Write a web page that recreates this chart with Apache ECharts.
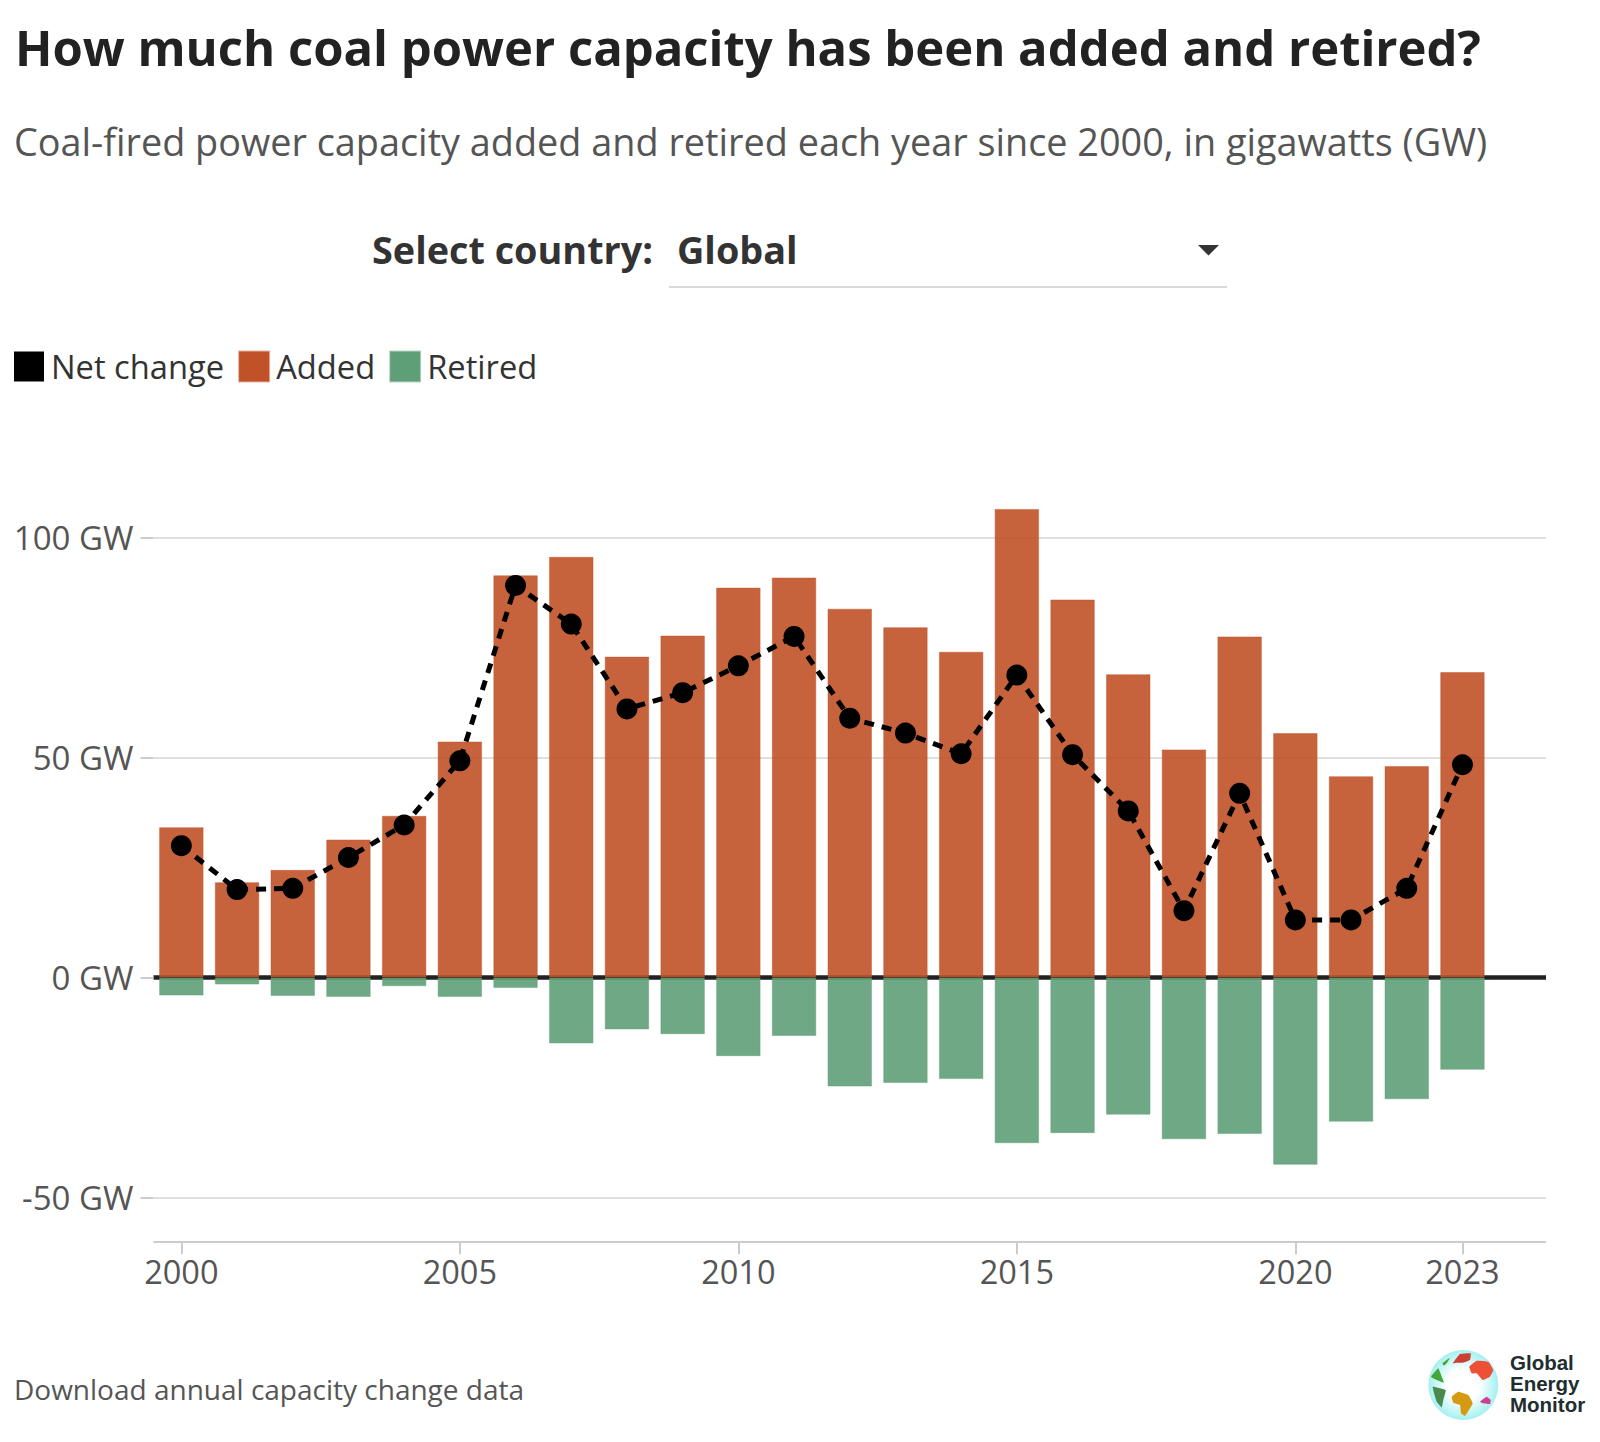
<!DOCTYPE html>
<html><head><meta charset="utf-8">
<style>html,body{margin:0;padding:0;background:#fff}#c{width:1600px;height:1442px}</style>
<script src="https://cdn.jsdelivr.net/npm/echarts@6/dist/echarts.min.js"></script>
</head><body><div id="c"></div>
<script>
const years=['2000','2001','2002','2003','2004','2005','2006','2007','2008','2009','2010','2011','2012','2013','2014','2015','2016','2017','2018','2019','2020','2021','2022','2023','2024'];
const added=[34.2,21.7,24.5,31.4,36.8,53.7,91.5,95.7,73,77.8,88.7,91,83.9,79.7,74.1,106.6,86,69,51.9,77.6,55.6,45.8,48.1,69.5,null];
const retired=[-4.1,-1.6,-4.2,-4.4,-2,-4.4,-2.4,-15,-11.8,-12.9,-17.9,-13.3,-24.8,-24,-23.1,-37.7,-35.4,-31.2,-36.8,-35.6,-42.6,-32.8,-27.7,-21,null];
const net=[30,20,20.3,27.3,34.7,49.3,89.2,80.4,61.1,64.8,70.9,77.6,59,55.6,50.9,68.8,50.7,37.9,15.2,41.9,13.1,13.1,20.3,48.4,null];
const xLabels=['2000','2005','2010','2015','2020','2023'];
const yTicks=[-50,0,50,100];
const F='"Open Sans"';
const chart=echarts.init(document.getElementById('c'),null,{renderer:'svg'});
const txt=(x,y,text,font,fill,extra)=>({type:'text',left:x,top:y,style:Object.assign({text,font,fill},extra||{})});
const poly=(points,fill)=>({type:'polygon',shape:{points,smooth:0.1},style:{fill}});
chart.setOption({
  animation:false,
  textStyle:{fontFamily:F},
  grid:{left:153.5,right:54,top:450,bottom:200.7,containLabel:false},
  legend:{left:14,top:350,padding:0,itemWidth:30,itemHeight:30,itemGap:14,icon:'rect',selectedMode:false,
    textStyle:{fontFamily:F,fontSize:32.7,color:'#333',padding:[0,0,0,2]},
    data:[{name:'Net change',icon:'rect',itemStyle:{color:'#000',opacity:1}},
          {name:'Added',icon:'rect',itemStyle:{color:'#c05228',opacity:1}},
          {name:'Retired',icon:'rect',itemStyle:{color:'#5f9f78',opacity:1}}]},
  xAxis:[{type:'category',data:years,position:'bottom',
    axisLine:{onZero:false,lineStyle:{color:'#ccc',width:2,cap:'butt'}},
    axisTick:{show:true,alignWithLabel:true,length:13,lineStyle:{color:'#ccc',width:2},interval:(i,v)=>xLabels.includes(v)},
    axisLabel:{fontFamily:F,fontSize:32.5,color:'#555',margin:14,interval:(i,v)=>xLabels.includes(v),hideOverlap:false},
    splitLine:{show:false}},
   {type:'category',data:years,position:'bottom',
    axisLine:{onZero:true,lineStyle:{color:'#222',width:4.5,cap:'butt'}},
    axisTick:{show:false},axisLabel:{show:false},splitLine:{show:false}}],
  yAxis:{type:'value',min:-60,max:120,
    axisLine:{show:false},
    axisTick:{show:true,length:13,customValues:yTicks,lineStyle:{color:'#ccc',width:2}},
    axisLabel:{fontFamily:F,fontSize:33,color:'#555',margin:20,customValues:yTicks,formatter:v=>v+' GW'},
    splitLine:{show:true,lineStyle:{color:'#d4d4d4',width:1.5}}},
  series:[
   {name:'Added',type:'bar',stack:'c',barWidth:44.5,data:added,z:2,
    itemStyle:{color:'rgba(192,82,40,0.9)',borderColor:'rgba(192,82,40,0.45)',borderWidth:1}},
   {name:'Retired',type:'bar',stack:'c',barWidth:44.5,data:retired,z:2,
    itemStyle:{color:'rgba(95,159,120,0.9)',borderColor:'rgba(95,159,120,0.45)',borderWidth:1}},
   {name:'Net change',type:'line',data:net,z:5,symbol:'circle',symbolSize:21,
    itemStyle:{color:'#000'},lineStyle:{color:'#000',width:5,type:[10,8]},connectNulls:false}
  ],
  graphic:[
   txt(15,22,'How much coal power capacity has been added and retired?','bold 49px "Open Sans"','#222'),
   txt(14,122,'Coal-fired power capacity added and retired each year since 2000, in gigawatts (GW)','37.8px "Open Sans"','#555'),
   txt(372,230,'Select country:','bold 37.8px "Open Sans"','#333'),
   txt(677,230,'Global','bold 37.8px "Open Sans"','#333'),
   {type:'line',shape:{x1:669,y1:287,x2:1227,y2:287},style:{stroke:'#ccc',lineWidth:1.5}},
   {type:'polygon',shape:{points:[[1198,245],[1219,245],[1208.5,255.5]]},style:{fill:'#333'}},
   txt(14,1375,'Download annual capacity change data','28px "Open Sans"','#555'),
   {type:'circle',shape:{cx:1463.3,cy:1385,r:35},style:{fill:{type:'radial',x:0.5,y:0.5,r:0.5,colorStops:[{offset:0,color:'#fff'},{offset:0.45,color:'#fff'},{offset:1,color:'#a5f0f0'}]}}},
   poly([[1452.7,1363.3],[1460,1354],[1470.7,1353.3],[1470,1360],[1463,1362.7],[1456.7,1362.7]],'#cc3f33'),
   poly([[1442.3,1363.3],[1450,1357.7],[1446.7,1363.3],[1444,1365.7]],'#45a63c'),
   poly([[1431,1376.7],[1438.3,1368.3],[1441.7,1376.7],[1444,1382.7],[1436.7,1380]],'#45a63c'),
   poly([[1432.7,1386.7],[1445.7,1390],[1443.3,1400],[1441.7,1407.3],[1436.7,1401.7]],'#4a8a4e'),
   poly([[1469.3,1366.7],[1476.7,1360.7],[1488.3,1361.7],[1493.3,1370],[1490,1376.7],[1482.7,1380],[1476.7,1373.3],[1471.7,1373.3]],'#ee5035'),
   poly([[1451.7,1396.7],[1458.3,1391.7],[1468.3,1395],[1472.7,1403.3],[1465,1416],[1461,1413.3],[1460,1405],[1453.3,1402.7]],'#d49b12'),
   poly([[1480,1401.7],[1486.7,1396.7],[1490.7,1400],[1490,1404],[1482.7,1403.3]],'#cf3f8f'),
   txt(1510,1352,'Global','bold 20.5px "Liberation Sans"','#1e2d2f'),
   txt(1510,1373,'Energy','bold 20.5px "Liberation Sans"','#1e2d2f'),
   txt(1510,1394,'Monitor','bold 20.5px "Liberation Sans"','#1e2d2f')
  ]
});
</script></body></html>
